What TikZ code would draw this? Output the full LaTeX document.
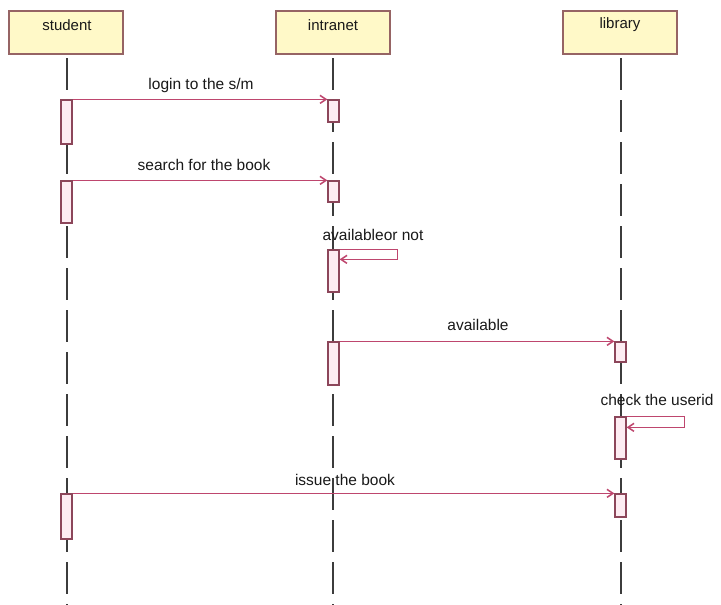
\documentclass[tikz,border=0pt]{standalone}
\usepackage{fontspec}
\setmainfont{Liberation Sans}
\usetikzlibrary{arrows.meta}
\definecolor{boxfill}{RGB}{255,249,200}
\definecolor{boxline}{RGB}{150,100,100}
\definecolor{actfill}{RGB}{253,236,242}
\definecolor{actline}{RGB}{140,70,90}
\definecolor{msgcol}{RGB}{190,70,110}
\definecolor{lifecol}{RGB}{60,60,60}
\definecolor{txtcol}{RGB}{25,25,25}
\begin{document}
\begin{tikzpicture}[x=1pt,y=-1pt,
  objbox/.style={draw=boxline,line width=2pt,fill=boxfill,minimum width=114pt,minimum height=43pt,inner sep=0pt},
  objlabel/.style={text=txtcol,font=\fontsize{15}{16}\selectfont,inner sep=0pt,anchor=center},
  lifeline/.style={draw=lifecol,line width=2pt,dash pattern=on 32pt off 10pt},
  act/.style={draw=actline,line width=1.3pt,fill=actfill,minimum width=11pt,inner sep=0pt},
  msg/.style={draw=msgcol,line width=1.5pt,-{Straight Barb[length=6pt,width=8pt]}},
  msglabel/.style={text=txtcol,font=\fontsize{15.5}{16}\selectfont,inner sep=0pt,anchor=center}
]
\useasboundingbox[fill=white] (0,0) rectangle (721,605);
% object boxes
\node[objbox] (student) at (66,32.5) {};
\node[objbox] (intranet) at (333,32.5) {};
\node[objbox] (library) at (620,32.5) {};
\node[objlabel] (studentt) at (67,25) {student};
\node[objlabel] (intranett) at (333,25) {intranet};
\node[objlabel] (libraryt) at (620,25) {library};
% lifelines
\coordinate (st) at (67,58);  \coordinate (sb) at (67,607);
\coordinate (it) at (333,58); \coordinate (ib) at (333,607);
\coordinate (lt) at (621,58); \coordinate (lb) at (621,607);
\draw[lifeline] (st) -- (sb);
\draw[lifeline] (it) -- (ib);
\draw[lifeline] (lt) -- (lb);
% activations
\node[act,minimum height=44pt] (s1) at (66.5,122) {};
\node[act,minimum height=22pt] (i1) at (333.5,111) {};
\node[act,minimum height=42pt] (s2) at (66.5,202) {};
\node[act,minimum height=21pt] (i2) at (333.5,191.5) {};
\node[act,minimum height=42pt] (i3) at (333.5,271) {};
\node[act,minimum height=43pt] (i4) at (333.5,363.5) {};
\node[act,minimum height=20pt] (l1) at (620.5,352) {};
\node[act,minimum height=42pt] (l2) at (620.5,438) {};
\node[act,minimum height=45pt] (s3) at (66.5,516.5) {};
\node[act,minimum height=23pt] (l3) at (620.5,505.5) {};
% messages
\draw[msg] (s1.north east) -- (i1.north west);
\node[msglabel] (m1) at (201,85) {login to the s/m};
\draw[msg] (s2.north east) -- (i2.north west);
\node[msglabel] (m2) at (204,165) {search for the book};
\draw[msg] (i3.north east) -- ++(58,0) -- ++(0,10) -- ++(-58,0);
\node[msglabel] (m3) at (373,235) {availableor not};
\draw[msg] (i4.north east) -- (l1.north west);
\node[msglabel] (m4) at (478,325) {available};
\draw[msg] (l2.north east) -- ++(58,0) -- ++(0,11) -- ++(-58,0);
\node[msglabel] (m5) at (657,400) {check the userid};
\draw[msg] (s3.north east) -- (l3.north west);
\node[msglabel] (m6) at (345,480) {issue the book};
\end{tikzpicture}
\end{document}
